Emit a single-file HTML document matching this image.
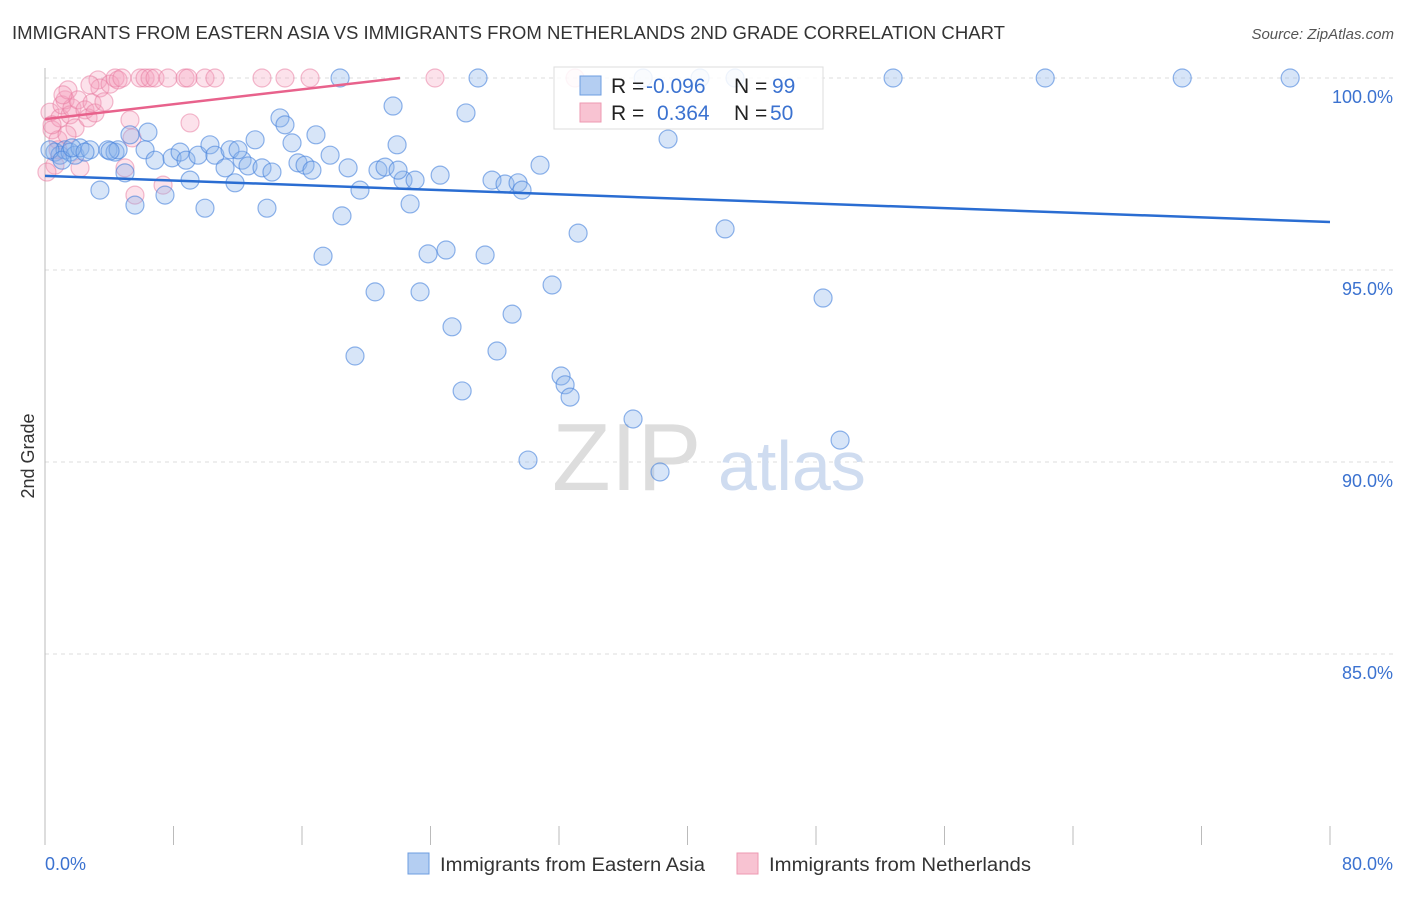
<!DOCTYPE html>
<html><head><meta charset="utf-8"><style>
body{margin:0;background:#fff;font-family:"Liberation Sans",sans-serif;}
svg text{font-family:"Liberation Sans",sans-serif;}
</style></head><body>
<svg id="chart" width="1406" height="892" xmlns="http://www.w3.org/2000/svg">
<text x="12" y="39" font-size="18" fill="#333" textLength="993" lengthAdjust="spacingAndGlyphs">IMMIGRANTS FROM EASTERN ASIA VS IMMIGRANTS FROM NETHERLANDS 2ND GRADE CORRELATION CHART</text>
<text x="1394" y="39" font-size="15" fill="#555" text-anchor="end" font-style="italic">Source: ZipAtlas.com</text>
<text x="34" y="456" font-size="18" fill="#333" text-anchor="middle" transform="rotate(-90 34 456)">2nd Grade</text>
<g id="grid"></g>
<text x="552" y="490" font-size="96" fill="#ddd" font-family="Liberation Serif">ZIP</text>
<text x="718" y="490" font-size="70" fill="#cfdcf0">atlas</text>
<g id="marks"></g>
<g>
<rect x="554" y="67" width="269" height="62" fill="rgba(255,255,255,0.85)" stroke="#ddd"/>
<rect x="580" y="76" width="21" height="19" fill="#b4cef2" stroke="#6d9de0"/>
<rect x="580" y="103" width="21" height="19" fill="#f8c3d2" stroke="#ee9ab2"/>
<text x="611" y="93" font-size="21" fill="#222">R = <tspan x="646" fill="#3b72d0">-0.096</tspan></text>
<text x="734" y="93" font-size="21" fill="#222">N = <tspan x="772" fill="#3b72d0">99</tspan></text>
<text x="611" y="120" font-size="21" fill="#222">R = <tspan x="657" fill="#3b72d0">0.364</tspan></text>
<text x="734" y="120" font-size="21" fill="#222">N = <tspan x="770" fill="#3b72d0">50</tspan></text>
</g>
<g>
<rect x="408" y="853" width="21" height="21" fill="#b4cef2" stroke="#6d9de0"/>
<text x="440" y="871" font-size="19" fill="#333" textLength="265" lengthAdjust="spacingAndGlyphs">Immigrants from Eastern Asia</text>
<rect x="737" y="853" width="21" height="21" fill="#f8c3d2" stroke="#ee9ab2"/>
<text x="769" y="871" font-size="19" fill="#333" textLength="262" lengthAdjust="spacingAndGlyphs">Immigrants from Netherlands</text>
</g>
</svg>
<script>
const blueX=[0.62,0.93,1.25,1.56,1.87,2.18,2.80,3.42,3.92,4.36,4.55,4.98,5.29,5.60,6.23,6.41,6.85,7.47,7.91,8.41,8.78,9.03,9.53,9.96,10.27,10.58,11.21,11.52,11.83,12.27,12.64,13.08,13.51,13.82,14.13,14.63,14.94,15.38,15.75,16.19,16.62,16.87,17.31,17.75,18.37,18.49,18.87,19.30,19.61,20.55,20.73,21.17,21.67,21.92,22.29,22.73,23.04,23.35,23.85,24.60,24.97,25.34,25.97,26.21,26.96,27.40,27.83,28.14,28.64,29.08,29.45,29.70,30.07,30.82,31.57,32.13,32.38,32.69,33.19,36.61,38.29,38.79,42.34,42.96,48.44,49.50,52.80,62.27,70.80,77.52,0.31,1.06,1.68,2.49,4.05,12.02,21.98,37.24,40.78];
const blueY=[98.07,97.99,98.13,98.07,97.99,98.18,98.13,97.08,98.13,98.07,98.13,97.53,98.52,96.69,98.13,98.59,97.86,96.95,97.92,98.07,97.86,97.34,97.99,96.61,98.26,97.99,97.66,98.13,97.27,97.86,97.71,98.39,97.66,96.61,97.55,98.96,98.78,98.31,97.79,97.73,97.60,98.52,95.36,97.99,100,96.41,97.66,92.76,97.08,94.43,97.60,97.68,99.27,98.26,97.34,96.72,97.34,94.43,95.42,97.47,95.52,93.52,91.85,99.09,100,95.39,97.34,92.89,97.24,93.85,97.27,97.08,90.05,97.73,94.61,92.24,92.01,91.69,95.96,91.12,89.74,98.41,96.07,100,94.27,90.57,100,100,100,100,98.13,97.86,98.18,98.07,98.10,98.13,97.60,100,100];
const pinkX=[0.31,0.44,0.62,0.81,0.93,1.06,1.25,1.43,1.56,1.68,1.87,2.05,2.18,2.49,2.68,2.93,3.11,3.30,3.42,3.67,4.05,4.36,4.55,4.79,4.98,5.29,5.42,5.60,5.92,6.23,6.54,6.85,7.35,7.66,8.72,8.90,9.03,9.96,10.58,13.51,14.94,16.50,24.28,33.00,0.12,0.44,0.81,1.12,1.37,2.80];
const pinkY=[99.11,98.65,97.73,98.39,98.96,99.30,99.43,99.69,99.04,99.22,98.70,99.43,97.66,99.17,98.96,99.35,99.09,99.95,99.74,99.38,99.84,100,99.95,100,97.66,98.91,98.44,96.95,100,100,100,100,97.21,100,100,100,98.83,100,100,100,100,100,100,100,97.55,98.78,98.13,99.56,98.52,99.82];
const blueTrend=[0,97.45,80,96.25];
const pinkTrend=[0,98.93,22.1,100];
const yTicks=[100,95,90,85];
const yTickLabels=["100.0%","95.0%","90.0%","85.0%"];
const xTicks=[0,8,16,24,32,40,48,56,64,72,80];
const NS='http://www.w3.org/2000/svg';
const sx=v=>45+v/80*1285;
const sy=v=>78+(100-v)*38.4;
function mk(tag,attrs,parent){const e=document.createElementNS(NS,tag);for(const k in attrs)e.setAttribute(k,attrs[k]);parent.appendChild(e);return e;}
const grid=document.getElementById('grid'),marks=document.getElementById('marks');
yTicks.forEach((t,i)=>{
 const l=mk('line',{x1:45,x2:1394,y1:sy(t),y2:sy(t),stroke:'#ddd','stroke-dasharray':'4,4'},grid);
 
 
 const tx=mk('text',{x:1393,y:sy(t)+25,'font-size':18,fill:'#3b72d0','text-anchor':'end'},grid);
 tx.textContent=yTickLabels[i];
 
 
});
const ax=mk('line',{x1:45,x2:45,y1:68,y2:845,stroke:'#bbb'},grid);


xTicks.forEach(t=>{
 const l=mk('line',{x1:sx(t),x2:sx(t),y1:826,y2:845,stroke:'#bbb'},grid);
 
 
});
const xl0=mk('text',{x:45,y:870,'font-size':18,fill:'#3b72d0'},grid);xl0.textContent='0.0%';


const xl1=mk('text',{x:1393,y:870,'font-size':18,fill:'#3b72d0','text-anchor':'end'},grid);xl1.textContent='80.0%';


pinkX.forEach((x,i)=>{
 const c=mk('circle',{cx:sx(x),cy:sy(pinkY[i]),r:9,fill:'rgba(244,160,188,0.3)',stroke:'rgba(232,120,158,0.5)','stroke-width':1.2},marks);
 
 
});
blueX.forEach((x,i)=>{
 const c=mk('circle',{cx:sx(x),cy:sy(blueY[i]),r:9,fill:'rgba(140,180,236,0.35)',stroke:'rgba(70,130,220,0.6)','stroke-width':1.2},marks);
 
 
});
const bt=mk('line',{x1:sx(blueTrend[0]),y1:sy(blueTrend[1]),x2:sx(blueTrend[2]),y2:sy(blueTrend[3]),stroke:'#2a6dd2','stroke-width':2.5},marks);


const pt=mk('line',{x1:sx(pinkTrend[0]),y1:sy(pinkTrend[1]),x2:sx(pinkTrend[2]),y2:sy(pinkTrend[3]),stroke:'#e8628c','stroke-width':2.5},marks);


</script>
</body></html>
